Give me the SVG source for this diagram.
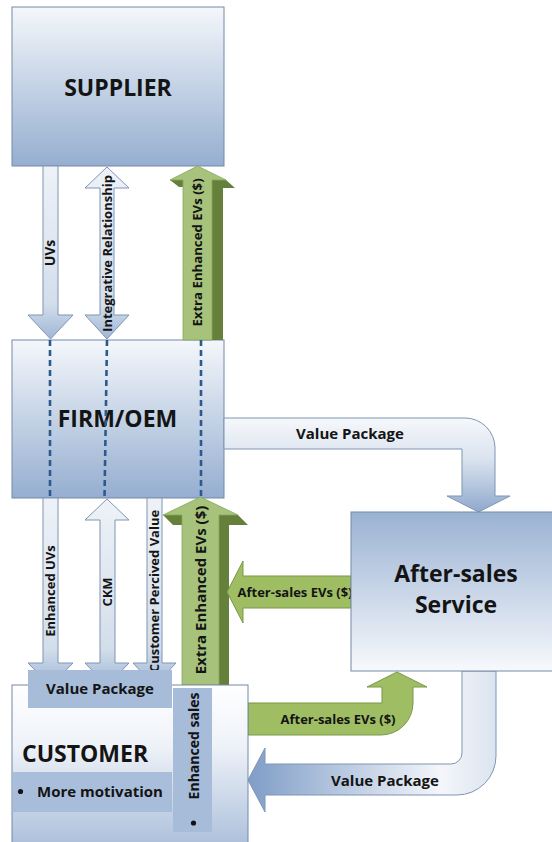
<svg xmlns="http://www.w3.org/2000/svg" width="552" height="842" viewBox="0 0 552 842">
<defs>
<linearGradient id="gDown" x1="0" y1="0" x2="0" y2="1"><stop offset="0" stop-color="#f4f7fb"/><stop offset="1" stop-color="#95aed0"/></linearGradient>
<linearGradient id="gUp" x1="0" y1="0" x2="0" y2="1"><stop offset="0" stop-color="#9ab2d3"/><stop offset="1" stop-color="#f7f9fc"/></linearGradient>
<linearGradient id="gCust" x1="0" y1="0" x2="0" y2="1"><stop offset="0" stop-color="#ffffff"/><stop offset="0.35" stop-color="#eef2f8"/><stop offset="1" stop-color="#a3b9d7"/></linearGradient>
<linearGradient id="gArrow" x1="0" y1="0" x2="0" y2="1"><stop offset="0" stop-color="#eef2f8"/><stop offset="0.8" stop-color="#d3deeb"/><stop offset="1" stop-color="#9fb6d5"/></linearGradient>
<linearGradient id="gArrowH" x1="0" y1="0" x2="1" y2="0"><stop offset="0" stop-color="#dde6f1"/><stop offset="1" stop-color="#a9bdd8"/></linearGradient>
<linearGradient id="gVP1" x1="0" y1="0" x2="0" y2="1"><stop offset="0" stop-color="#f6f8fb"/><stop offset="0.45" stop-color="#d9e2ee"/><stop offset="1" stop-color="#8fa9cd"/></linearGradient>
<linearGradient id="gVP2" x1="0" y1="0" x2="1" y2="0"><stop offset="0" stop-color="#7f9dc7"/><stop offset="0.78" stop-color="#f4f6fa"/><stop offset="1" stop-color="#dbe4ef"/></linearGradient>
<style>
.box{stroke:#7489a8;stroke-width:1}
.t{font-family:"Open Sans","Liberation Sans",sans-serif;font-weight:bold;fill:#141414}
.big{font-size:23px}
.arr{fill:url(#gArrow);stroke:#7f95b3;stroke-width:1}
.gf{fill:#a7c27a;stroke:#8aa65c;stroke-width:0.8}
.gd{fill:#64803a}
.ga{fill:#9fbd63;stroke:#7a9747;stroke-width:1}
.inner{fill:#a6bcd9}
.dash{stroke:#2d5a8c;stroke-width:2.6;stroke-dasharray:6 4;fill:none}
</style>
</defs>

<g id="supplier">
<rect class="box" x="12" y="7" width="212" height="159" fill="url(#gDown)"/>
<text class="t big" x="118" y="96" text-anchor="middle">SUPPLIER</text>
</g>

<g id="firm">
<rect class="box" x="12" y="340" width="212" height="158" fill="url(#gDown)"/>
<text class="t big" x="117.5" y="427" text-anchor="middle">FIRM/OEM</text>
</g>

<g id="connectors">
<!-- UVs -->
<path class="arr" d="M43,166 H58 V315 H73 L50.5,339 L28,315 H43 Z"/>
<text class="t" font-size="14" transform="translate(50,253) rotate(-90)" text-anchor="middle" dy="0.36em">UVs</text>
<!-- Integrative Relationship -->
<path class="arr" d="M107,167 L129,188 H114 V315 H129 L107,339 L85,315 H100 V188 H85 Z"/>
<text class="t" font-size="13" transform="translate(107,253.5) rotate(-90)" text-anchor="middle" dy="0.36em">Integrative Relationship</text>
<!-- Extra Enhanced EVs top -->
<path class="gd" d="M212,180 H226 L235,188 H223 V340 H212 Z"/>
<path class="gd" d="M170,180 H183 V187 H179 Z"/>
<path class="gf" d="M197.5,166 L226,180 H212 V340 H183 V180 H170 Z"/>
<text class="t" font-size="13.2" transform="translate(197.5,252.5) rotate(-90)" text-anchor="middle" dy="0.36em">Extra Enhanced EVs ($)</text>
<!-- dashed -->
<line class="dash" x1="50" y1="340" x2="50" y2="498"/>
<line class="dash" x1="107" y1="340" x2="104.5" y2="498"/>
<line class="dash" x1="201" y1="340" x2="201" y2="498"/>
<!-- Value Package firm to after-sales -->
<path d="M224,418 H465 A30,30 0 0 1 495,448 V496 H510 L478.5,512 L447,496 H462 V449 H224 Z" fill="url(#gVP1)" stroke="#7f95b3" stroke-width="1"/>
<text class="t" font-size="15" x="350" y="438.5" text-anchor="middle">Value Package</text>
<!-- Enhanced UVs -->
<path class="arr" d="M43,498 H58 V663 H73 L50.5,686 L28,663 H43 Z"/>
<text class="t" font-size="13" transform="translate(50.5,591) rotate(-90)" text-anchor="middle" dy="0.36em">Enhanced UVs</text>
<!-- CKM -->
<path class="arr" d="M107,499 L129,520 H115 V663 H129 L107,686 L85,663 H100 V520 H85 Z"/>
<text class="t" font-size="13" transform="translate(107,592) rotate(-90)" text-anchor="middle" dy="0.36em">CKM</text>
<!-- Customer Percived Value -->
<path class="arr" d="M147,498 H162 V663 H176 L154.5,686 L133,663 H147 Z"/>
<text class="t" font-size="13" transform="translate(154.5,591) rotate(-90)" text-anchor="middle" dy="0.36em">Customer Percived Value</text>
<!-- Extra Enhanced EVs bottom -->
<path class="gd" d="M219,515 H238 L248,525 H229 V685 H219 Z"/>
<path class="gd" d="M163,515 H182 V525 H173 Z"/>
<path class="gf" d="M200.5,497 L238,515 H219 V685 H182 V515 H163 Z"/>
<text class="t" font-size="15" transform="translate(200.5,590) rotate(-90)" text-anchor="middle" dy="0.36em">Extra Enhanced EVs ($)</text>
<!-- After-sales EVs to firm -->
<path class="ga" d="M351,576 V608 H243 V623 L227,592 L243,561 V576 Z"/>
<text class="t" font-size="13" x="295" y="596.5" text-anchor="middle">After-sales EVs ($)</text>
<!-- After-sales EVs from customer -->
<path class="ga" d="M248,703 H382 V687 H367 L397,672 L427,687 H413 V703 A32,32 0 0 1 381,735 H248 Z"/>
<text class="t" font-size="13" x="338" y="723.5" text-anchor="middle">After-sales EVs ($)</text>
<!-- Value Package after-sales to customer -->
<path d="M462,671 V753 A11,11 0 0 1 451,764 H265 V748 L248,780 L265,812 V795 H457 A39,39 0 0 0 496,756 V671 Z" fill="url(#gVP2)" stroke="#7f95b3" stroke-width="1"/>
<text class="t" font-size="15" x="385" y="785.5" text-anchor="middle">Value Package</text>
</g>

<g id="aftersales">
<rect class="box" x="351" y="512" width="210" height="159" fill="url(#gUp)"/>
<text class="t big" x="456" y="582" text-anchor="middle">After-sales</text>
<text class="t big" x="456" y="613" text-anchor="middle">Service</text>
</g>

<g id="customer">
<rect class="box" x="12" y="685" width="236" height="175" fill="url(#gCust)"/>
<rect class="inner" x="28" y="670" width="144" height="38"/>
<text class="t" font-size="15" x="100" y="693.5" text-anchor="middle">Value Package</text>
<rect class="inner" x="12.5" y="772" width="159.5" height="40" opacity="0.95"/>
<text class="t big" x="22" y="762">CUSTOMER</text>
<circle cx="20.5" cy="791.5" r="2.6" fill="#141414"/>
<text class="t" font-size="15" x="37" y="797">More motivation</text>
<rect class="inner" x="173" y="688" width="39" height="144"/>
<text class="t" font-size="14" transform="translate(193.5,746) rotate(-90)" text-anchor="middle" dy="0.36em">Enhanced sales</text>
<circle cx="193.5" cy="823" r="2.6" fill="#141414"/>
</g>
</svg>
